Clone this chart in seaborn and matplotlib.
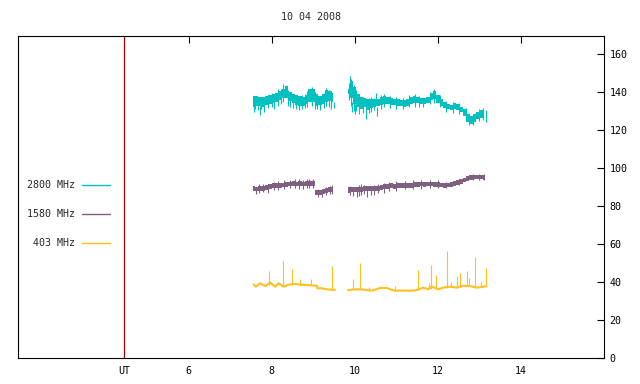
import numpy as np
import pandas as pd
import matplotlib
matplotlib.use("Agg")
import matplotlib.pyplot as plt
import seaborn as sns
from matplotlib.lines import Line2D

# ---- data (UT hours, solar flux units) ----
title = "10 04 2008"
ut_mark = 4.45
x_ticks = [6, 8, 10, 12, 14]
y_ticks = [0, 20, 40, 60, 80, 100, 120, 140, 160]
bands = ["2800 MHz", "1580 MHz", " 403 MHz"]
colors = ["#00c0c0", "#806080", "#ffc020"]

# noisy bands are stored as low / high envelope on a 0.08 h sampling grid
dt = 0.08
f2800_start = [7.56, 9.84]
f2800_lo1 = [132.5, 133, 133, 132.5, 133.5, 134, 134.5, 135, 136, 137, 137, 135.5, 134.5,
             133.5, 133, 133, 134, 135, 135, 133, 133.5, 134, 135, 135.5, 135]
f2800_hi1 = [138, 138, 137.5, 137.5, 138, 138.5, 139, 139.5, 140.5, 142, 143.5, 140, 139,
             138.5, 138, 137.5, 138.5, 141.5, 142, 139, 138, 139, 141, 140.5, 139.5]
f2800_lo2 = [139, 137, 134, 132, 131, 132, 130.5, 131.5, 132.5, 133, 133.5, 134, 134, 133.5,
             133.5, 133, 133, 132.5, 133, 134, 134.5, 134.5, 134, 134, 134.5, 136, 136.5,
             134.5, 133, 131.5, 131, 130.5, 131, 130.5, 129.5, 127.5, 124.5, 123.5, 124.5,
             126, 126.5, 126]
f2800_hi2 = [142, 146, 143, 139, 137.5, 137, 136.5, 136.5, 136.5, 136.5, 137.5, 138, 137.5,
             137, 136.5, 136.5, 136, 136, 136.5, 137.5, 138, 137.5, 137, 137, 137.5, 139.5,
             140.5, 138.5, 136.5, 135, 134, 133.5, 134.5, 134, 132.5, 131, 128.5, 127.5,
             128.5, 129.5, 130.5, 129.5]
f2800_spike_t = [7.58, 7.60, 7.66, 7.71, 7.75, 7.82, 7.92, 8.00, 8.05, 8.14, 8.22, 8.28, 8.35,
                 8.40, 8.45, 8.52, 8.59, 8.65, 8.72, 8.80, 8.86, 8.97, 9.05, 9.10, 9.15, 9.25,
                 9.30, 9.38, 9.43, 9.50,
                 9.86, 9.88, 9.90, 9.94, 9.97, 10.00, 10.04, 10.10, 10.20, 10.28, 10.34, 10.40,
                 10.46, 10.52, 10.53, 10.62, 10.70, 10.85, 11.00, 11.15, 11.30, 11.45, 11.55,
                 11.65, 11.80, 11.90, 12.05, 12.20, 12.36, 12.52, 12.68, 12.76, 12.84, 13.00,
                 13.08, 13.15]
f2800_spike_lo = [129.7, 131, 130.5, 128.0, 131, 129.5, 131.5, 132, 131, 133, 134, 135, 138,
                  133, 132, 131.5, 131.0, 130.5, 131, 131.5, 132, 133, 131, 131, 130.5, 131.5,
                  133, 132.5, 131, 131.7,
                  136, 140.0, 133, 129.5, 130, 128.7, 130, 128.5, 129, 125.8, 129, 129.5,
                  130.5, 136.0, 127.7, 131, 132, 131.5, 131, 131, 132, 132.5, 132,
                  132.0, 134, 134.5, 132, 129.5, 129, 128.5, 125.5, 122.5, 123, 125,
                  125.5, 124.5]
f2800_spike_hi = [134.0, 137, 136, 133.0, 136, 135, 137, 139.5, 137, 141.5, 142, 144.5, 144.0,
                  141, 139, 138, 134.0, 137, 138.5, 139, 140.5, 143, 140, 138.5, 134.0, 139.5,
                  142.5, 141, 139.5, 135.0,
                  145, 148.5, 147, 135.0, 144, 134.0, 141, 138, 137.5, 131.0, 137, 137.5,
                  137, 139.5, 132.0, 138.5, 139, 138, 137.5, 137, 138.5, 139, 138,
                  135.0, 140, 141.5, 138.5, 135.5, 135, 134.5, 131.5, 129, 128.5, 131,
                  131.5, 130.5]

f1580_start = [7.56, 9.84]
f1580_lo1 = [87.7, 87.9, 88.0, 88.1, 88.4, 88.9, 89.5, 89.4, 89.6, 89.8, 90.1, 90.4, 90.5,
             90.4, 90.6, 90.5, 90.5, 90.7, 90.6, 85.6, 85.9, 86.5, 87.0, 87.5, 87.9]
f1580_hi1 = [90.3, 90.2, 90.6, 90.7, 90.9, 91.5, 91.9, 92.0, 92.2, 92.3, 92.7, 92.9, 93.1,
             92.8, 93.2, 92.9, 93.1, 93.2, 93.1, 88.2, 88.6, 89.1, 89.6, 90.0, 90.5]
f1580_lo2 = [87.0, 87.3, 87.5, 87.3, 87.6, 87.7, 87.8, 87.9, 88.0, 88.1, 88.5, 88.9, 89.2,
             89.3, 89.1, 89.4, 89.4, 89.6, 89.5, 89.7, 89.9, 90.1, 90.3, 90.1, 90.3, 90.4,
             90.1, 90.0, 89.8, 89.6, 89.8, 90.1, 90.8, 91.2, 91.8, 92.5, 93.1, 93.6, 94.0,
             94.1, 94.0, 93.7]
f1580_hi2 = [89.8, 90.1, 90.2, 89.9, 90.2, 90.3, 90.4, 90.5, 90.6, 90.7, 91.0, 91.5, 91.8,
             91.9, 91.7, 91.9, 92.0, 92.2, 92.1, 92.3, 92.5, 92.7, 92.8, 92.7, 92.9, 92.8,
             92.7, 92.6, 92.3, 92.2, 92.3, 92.7, 93.3, 93.8, 94.3, 95.0, 95.6, 96.1, 96.5,
             96.6, 96.4, 96.1]
f1580_spike_t = [7.62, 7.70, 7.80, 7.90, 8.05, 8.15, 8.30, 8.45, 8.55, 8.65, 8.75, 8.85, 8.90,
                 9.00, 9.12, 9.20, 9.30, 9.40, 9.45, 9.88, 9.95, 10.05, 10.10, 10.15, 10.22,
                 10.30, 10.38, 10.45, 10.55, 10.70, 10.82, 11.00, 11.20, 11.40, 11.60, 11.80,
                 12.00, 12.20, 12.50, 12.85, 13.00, 13.10]
f1580_spike_lo = [86.5, 87.0, 87.5, 87.0, 88.5, 88.5, 89.0, 89.5, 89.5, 89.0, 89.0, 89.5, 89.5,
                  89.5, 85.0, 84.5, 86.0, 86.5, 86.5, 86.0, 85.5, 85.0, 85.5, 86.0, 86.5,
                  84.5, 86.0, 86.0, 87.0, 87.0, 88.0, 88.0, 89.0, 89.0, 89.0, 89.5,
                  89.5, 89.5, 91.0, 93.5, 93.5, 93.5]
f1580_spike_hi = [90.0, 91.5, 91.5, 91.5, 92.5, 93.0, 93.5, 93.5, 94.5, 94.0, 93.5, 94.0, 94.0,
                  94.0, 88.8, 88.5, 90.0, 90.5, 91.0, 90.5, 90.0, 89.5, 91.0, 91.5, 91.0,
                  89.0, 90.5, 91.0, 91.5, 92.0, 92.5, 93.0, 93.0, 93.5, 93.5, 93.5,
                  93.5, 92.5, 94.0, 97.0, 97.0, 97.0]

f403_t1 = [7.56, 7.62, 7.72, 7.84, 7.96, 8.08, 8.16, 8.28, 8.44, 8.56, 8.70, 8.84, 9.04,
           9.09, 9.10, 9.20, 9.32, 9.44, 9.52]
f403_v1 = [38.6, 37.4, 39.2, 37.7, 39.5, 37.4, 39.2, 37.4, 38.6, 38.8, 38.4, 38.3, 37.9,
           37.9, 36.5, 36.6, 36.0, 35.8, 35.6]
f403_t2 = [9.84, 10.00, 10.16, 10.28, 10.41, 10.61, 10.77, 10.85, 10.97, 11.37, 11.49, 11.65,
           11.77, 11.85, 12.01, 12.13, 12.29, 12.45, 12.61, 12.77, 12.93, 13.05, 13.17]
f403_v2 = [35.6, 36.0, 36.0, 35.6, 35.3, 36.7, 36.7, 36.0, 35.3, 35.3, 35.6, 36.9, 36.0,
           37.4, 36.0, 36.9, 37.4, 36.9, 37.9, 37.7, 36.9, 37.2, 37.7]
f403_spike_t = [7.94, 8.28, 8.495, 8.69, 8.95, 9.46, 9.96, 10.13, 10.33, 10.96, 11.53, 11.78,
                11.83, 11.95, 12.23, 12.31, 12.47, 12.54, 12.69, 12.76, 12.90, 13.05, 13.15]
f403_spike_lo = [38.5, 37.5, 38.6, 38.4, 38.1, 35.8, 36.0, 36.0, 35.6, 35.3, 35.6, 36.5,
                 36.2, 36.5, 36.5, 37.0, 36.9, 37.0, 37.8, 37.8, 37.3, 37.0, 37.5]
f403_spike_hi = [45.7, 51.0, 46.7, 41.4, 41.4, 48.3, 41.4, 49.7, 37.4, 37.7, 46.2, 39.2,
                 48.8, 43.5, 56.2, 40.0, 43.0, 44.4, 45.7, 41.8, 52.9, 40.6, 47.1]

# ---- figure ----
sns.set_style("white")
plt.rcParams["font.family"] = ["DejaVu Sans Mono", "DejaVu Sans"]
plt.rcParams["font.size"] = 7.2

fig = plt.figure(figsize=(6.4, 3.84), dpi=100)
ax = fig.add_axes([18 / 640, 1 - 357.5 / 384, 586 / 640, 322 / 384])


def draw_band(starts, los, his, color):
    for t0, lo, hi in zip(starts, los, his):
        t = t0 + dt * np.arange(len(lo))
        ax.fill_between(t, lo, hi, step="mid", color=color, lw=0)


draw_band(f2800_start, [f2800_lo1, f2800_lo2], [f2800_hi1, f2800_hi2], colors[0])
ax.vlines(f2800_spike_t, f2800_spike_lo, f2800_spike_hi, color=colors[0], lw=0.8)
draw_band(f1580_start, [f1580_lo1, f1580_lo2], [f1580_hi1, f1580_hi2], colors[1])
ax.vlines(f1580_spike_t, f1580_spike_lo, f1580_spike_hi, color=colors[1], lw=0.8)

df403 = pd.concat([
    pd.DataFrame({"hour": f403_t1, "flux": f403_v1, "seg": 1}),
    pd.DataFrame({"hour": f403_t2, "flux": f403_v2, "seg": 2}),
])
sns.lineplot(data=df403, x="hour", y="flux", units="seg", estimator=None, sort=False,
             color=colors[2], lw=1.5, ax=ax, legend=False)
ax.vlines(f403_spike_t, f403_spike_lo, f403_spike_hi, color=colors[2], lw=0.8)

ax.axvline(ut_mark, color="#a00000", lw=0.9)

ax.set_xlim(1.89, 16)
ax.set_ylim(0, 170)
ax.set_xlabel("")
ax.set_ylabel("")
ax.set_xticks([ut_mark] + x_ticks)
ax.set_xticklabels(["UT"] + [str(v) for v in x_ticks])
ax.yaxis.tick_right()
ax.set_yticks(y_ticks)
ax.tick_params(axis="x", direction="in", length=5, width=0.8, top=True, labeltop=False,
               pad=6, colors="black")
ax.tick_params(axis="y", direction="in", length=5, width=0.8, left=False, right=True,
               pad=4, colors="black")
first = ax.xaxis.get_major_ticks()[0]
first.tick1line.set_visible(False)
first.tick2line.set_visible(False)
for s in ax.spines.values():
    s.set_color("black")
    s.set_linewidth(0.8)
ax.set_title(title, pad=11, fontsize=7.2)

handles = [Line2D([], [], color=c, lw=1) for c in colors]
ax.legend(handles, bands, loc="upper left", bbox_to_anchor=(0.0154, 0.551),
          frameon=False, markerfirst=False, handlelength=2.8, handletextpad=0.7,
          labelspacing=1.9, borderpad=0, borderaxespad=0, fontsize=7.2)

fig.savefig("out.png", dpi=100)
